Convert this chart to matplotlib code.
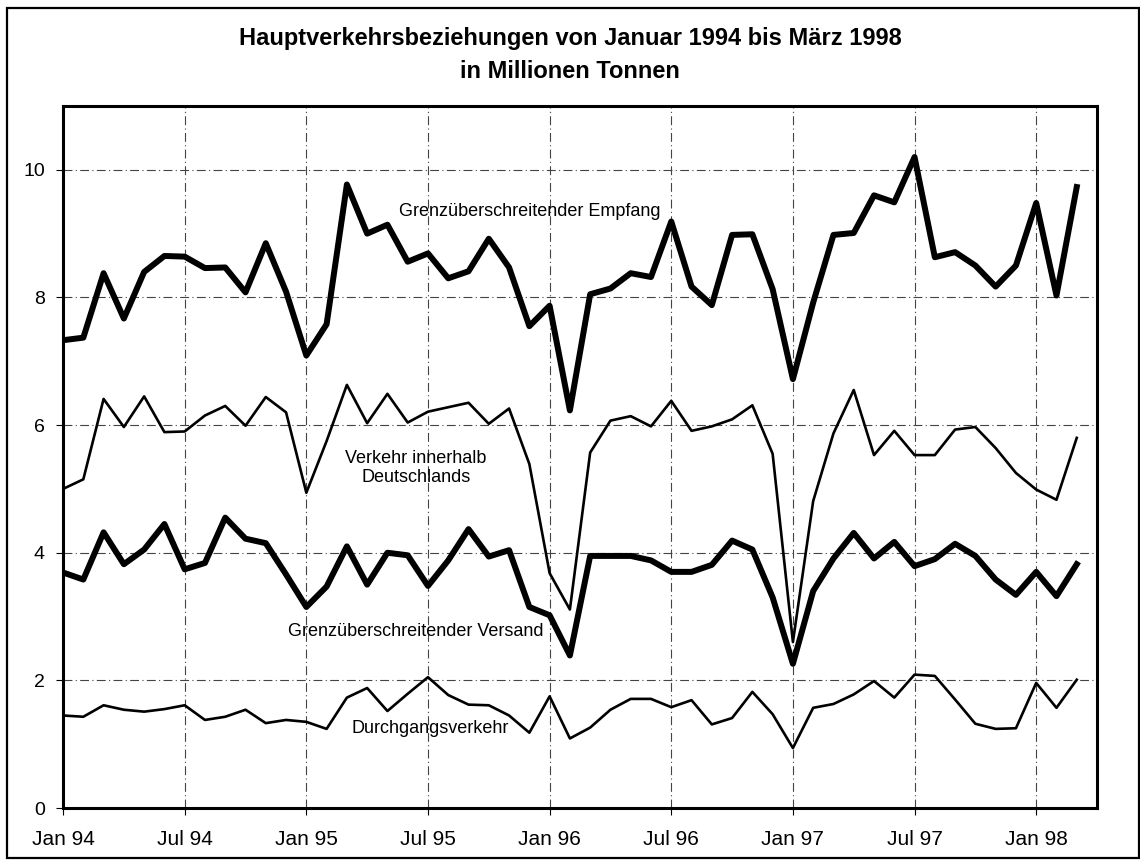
import matplotlib.pyplot as plt
from matplotlib.patches import Rectangle

plt.rcParams['font.family'] = ['Liberation Sans', 'DejaVu Sans']

# Monthly values, Jan 1994 .. Mar 1998 (million tonnes)
empfang = [7.33, 7.37, 8.38, 7.67, 8.40, 8.65, 8.64, 8.46, 8.47, 8.08,
           8.85, 8.09, 7.09, 7.58, 9.77, 9.00, 9.14, 8.56, 8.69, 8.30,
           8.41, 8.92, 8.47, 7.55, 7.87, 6.23, 8.05, 8.14, 8.38, 8.32,
           9.19, 8.17, 7.88, 8.98, 8.99, 8.13, 6.72, 7.92, 8.98, 9.01,
           9.60, 9.49, 10.20, 8.63, 8.71, 8.50, 8.17, 8.50, 9.48, 8.03,
           9.73]
inland = [5.00, 5.15, 6.41, 5.97, 6.45, 5.89, 5.90, 6.15, 6.30, 5.99,
          6.44, 6.20, 4.94, 5.75, 6.63, 6.03, 6.49, 6.04, 6.21, 6.28,
          6.35, 6.02, 6.26, 5.39, 3.68, 3.11, 5.57, 6.07, 6.14, 5.98,
          6.38, 5.91, 5.98, 6.09, 6.31, 5.55, 2.60, 4.81, 5.87, 6.55,
          5.53, 5.91, 5.53, 5.53, 5.93, 5.97, 5.64, 5.25, 4.99, 4.83,
          5.80]
versand = [3.69, 3.58, 4.32, 3.82, 4.05, 4.45, 3.74, 3.84, 4.55, 4.22,
           4.15, 3.66, 3.15, 3.47, 4.10, 3.50, 4.00, 3.96, 3.48, 3.88,
           4.37, 3.94, 4.04, 3.15, 3.02, 2.39, 3.95, 3.95, 3.95, 3.88,
           3.70, 3.70, 3.81, 4.19, 4.05, 3.30, 2.26, 3.40, 3.91, 4.31,
           3.91, 4.17, 3.79, 3.90, 4.14, 3.95, 3.58, 3.34, 3.70, 3.32,
           3.82]
durchgang = [1.45, 1.43, 1.61, 1.54, 1.51, 1.55, 1.61, 1.38, 1.43, 1.54,
             1.33, 1.38, 1.35, 1.24, 1.73, 1.88, 1.52, 1.79, 2.05, 1.77,
             1.62, 1.61, 1.45, 1.18, 1.75, 1.09, 1.26, 1.54, 1.71, 1.71,
             1.58, 1.69, 1.31, 1.41, 1.82, 1.47, 0.94, 1.57, 1.63, 1.78,
             1.99, 1.73, 2.09, 2.07, 1.70, 1.32, 1.24, 1.25, 1.96, 1.57,
             2.01]

tick_pos = [0, 6, 12, 18, 24, 30, 36, 42, 48]
tick_labels = ['Jan 94', 'Jul 94', 'Jan 95', 'Jul 95', 'Jan 96',
               'Jul 96', 'Jan 97', 'Jul 97', 'Jan 98']

months = list(range(len(empfang)))

fig = plt.figure(figsize=(11.4, 8.68), dpi=100)
ax = fig.add_axes([0.0553, 0.0691, 0.907, 0.8088])

ax.plot(months, inland, color='black', lw=1.9, zorder=3)
ax.plot(months, durchgang, color='black', lw=1.9, zorder=3)
ax.plot(months, empfang, color='black', lw=4.3, zorder=4)
ax.plot(months, versand, color='black', lw=4.3, zorder=4)

ax.set_xlim(0, 51)
ax.set_ylim(0, 11)
ax.set_xticks(tick_pos)
ax.set_xticklabels(tick_labels)
ax.set_yticks([0, 2, 4, 6, 8, 10])
ax.tick_params(axis='x', labelsize=15, length=5, pad=11, direction='out')
ax.tick_params(axis='y', labelsize=14, length=5, pad=8, direction='out')
ax.grid(True, color='#444444', lw=0.8, ls=(0, (8, 3, 1, 3)), zorder=1)

for s in ax.spines.values():
    s.set_linewidth(2.2)

ax.text(23.0, 9.34, 'Grenzüberschreitender Empfang', fontsize=13,
        ha='center', va='center')
ax.text(17.4, 5.33, 'Verkehr innerhalb\nDeutschlands', fontsize=13,
        ha='center', va='center', linespacing=1.2)
ax.text(17.4, 2.76, 'Grenzüberschreitender Versand', fontsize=13,
        ha='center', va='center')
ax.text(18.1, 1.25, 'Durchgangsverkehr', fontsize=13,
        ha='center', va='center')

fig.text(0.5, 0.937, 'Hauptverkehrsbeziehungen von Januar 1994 bis März 1998\n'
         'in Millionen Tonnen', fontsize=17, fontweight='bold',
         ha='center', va='center', linespacing=1.55)

fig.patches.append(Rectangle((0.006, 0.0115), 0.9935, 0.979,
                             transform=fig.transFigure, fill=False,
                             lw=1.6, color='black'))

fig.savefig('out.png', dpi=100)
